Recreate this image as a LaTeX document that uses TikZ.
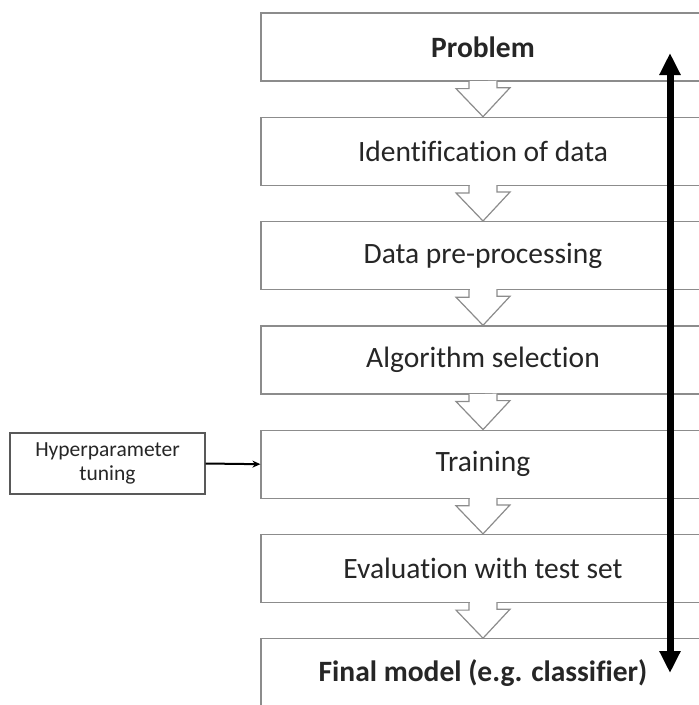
\documentclass[tikz,border=0pt]{standalone}
\usepackage{fontspec}
\setmainfont{Carlito}[Ligatures={NoCommon}]
\usetikzlibrary{arrows.meta}
\usetikzlibrary{positioning}

\definecolor{boxgray}{HTML}{8C8C8C}
\definecolor{txtgray}{HTML}{262626}

\tikzset{
  stepbox/.style={draw=boxgray, line width=1.2pt, fill=white, minimum width=444pt,
    minimum height=68pt, inner sep=0pt, text=txtgray,
    font=\fontsize{29.5}{34}\selectfont},
  sidebox/.style={draw=black!65, line width=1.2pt, fill=white, minimum width=195pt,
    minimum height=61pt, inner sep=0pt, text=txtgray, align=center,
    font=\fontsize{21.5}{24}\selectfont},
  blockarrow/.style={draw=boxgray, line width=1.2pt, fill=white, line join=miter},
}

\begin{document}
\begin{tikzpicture}[x=1pt, y=1pt]
		\useasboundingbox (0,0) rectangle (699,-705);
		\clip (0,0) rectangle (699,-705);
		% steps of the workflow
		\foreach \name/\txt [count=\i] in {problem/\textbf{Problem},
				identify/Identification of data,
				preproc/Data pre-processing,
				algo/Algorithm selection,
				train/Training,
				evaluate/Evaluation with test set,
				final/\textbf{Final model (e.g. classifier)}} {
			\node[stepbox] (\name) at (483,{-47-(\i-1)*104.3}) {\txt};
		}
		% block arrows between the steps
		\foreach \a/\b in {problem/identify, identify/preproc, preproc/algo,
				algo/train, train/evaluate, evaluate/final} {
			\fill[white] ([xshift=-13.4pt,yshift=1pt]\a.south) rectangle ([xshift=13.4pt,yshift=-4pt]\a.south);
			\filldraw[blockarrow] ([xshift=-14pt]\a.south) -- ++(0,-7) -- ++(-13,0)
				-- (\b.north) -- ++(27,29) -- ++(-13,0) -- ++(0,7);
		}
		\node[sidebox] (hyper) at (107.5,-463.5) {Hyperparameter\\tuning};
		\draw[-{Stealth[length=8pt,width=7pt]}, line width=2pt] (hyper.east) -- (train.west);
		% feedback through all steps
		\coordinate (up) at (670,-53);
		\coordinate (down) at (670,-673);
		\draw[{Triangle[width=20pt,length=22pt]}-{Triangle[width=20pt,length=22pt]}, line width=7pt] (down) -- (up);
	\end{tikzpicture}
\end{document}
